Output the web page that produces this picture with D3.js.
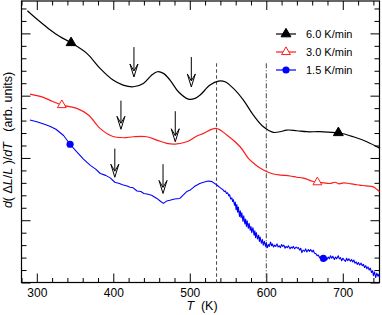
<!DOCTYPE html>
<html>
<head>
<meta charset="utf-8">
<script src="https://cdn.jsdelivr.net/npm/d3@7"></script>
<style>
  html, body { margin: 0; padding: 0; background: #fff; }
  svg { display: block; font-family: "Liberation Sans", Arial, sans-serif; }
  .tick text { font-size: 12px; fill: #000; }
  .tick line { stroke: #000; }
</style>
</head>
<body>
<div id="chart"></div>
<script>
// Heating-rate curves, [T (K), d(dL/L)/dT in arb. units]
const black6 = [
  [287.7, 4.363], [300, 4.23], [315, 4.08], [330, 3.95], [344.8, 3.849], [365.4, 3.679],
  [382.7, 3.438], [399.7, 3.25], [412.8, 3.17], [426.3, 3.143], [439.3, 3.197], [450.3, 3.331],
  [457.6, 3.384], [465.5, 3.358], [474.2, 3.25], [485.1, 3.063], [498.2, 2.945], [506.9, 2.957],
  [513.5, 3.01], [526.5, 3.17], [537.4, 3.234], [546.1, 3.223], [557, 3.117], [570.1, 2.929],
  [583.1, 2.689], [596.2, 2.501], [609.3, 2.411], [618, 2.421], [626.8, 2.448], [639.9, 2.437],
  [652.9, 2.421], [670.3, 2.421], [694.2, 2.404], [713.9, 2.34], [731.4, 2.26], [748.8, 2.154]
];
const red3 = [
  [291.2, 3.026], [308.6, 2.973], [320, 2.91], [332.7, 2.849], [352.3, 2.796], [367.5, 2.689],
  [382.7, 2.475], [398, 2.352], [413.2, 2.324], [426.3, 2.34], [443.8, 2.34], [456.9, 2.287],
  [469.9, 2.234], [480.8, 2.223], [496.1, 2.26], [509.2, 2.352], [517.8, 2.395], [534.4, 2.475],
  [548.4, 2.368], [565.8, 2.18], [576.6, 1.994], [585, 1.9], [596.2, 1.806], [609.3, 1.742],
  [620, 1.725], [631, 1.71], [640, 1.69], [647, 1.68], [653, 1.66], [660, 1.625], [667, 1.61],
  [675, 1.60], [683, 1.59], [690, 1.61], [695, 1.585], [701, 1.60], [708, 1.59], [715, 1.575],
  [722, 1.565], [730, 1.55], [740, 1.535], [744, 1.50], [748, 1.46]
];
const blue15 = [
  [291, 2.61], [300, 2.58], [310, 2.54], [317, 2.51], [325, 2.46], [335, 2.36], [343.5, 2.22],
  [352, 2.10], [361, 1.98], [370, 1.88], [377, 1.82], [383, 1.75], [390, 1.72], [396, 1.68],
  [402, 1.61], [408, 1.59], [412, 1.57], [418, 1.55], [422, 1.53], [426, 1.52], [431, 1.47],
  [436, 1.46], [440, 1.43], [444, 1.42], [450, 1.40], [457, 1.35], [462, 1.30], [465.5, 1.27],
  [470, 1.31], [474, 1.32], [480, 1.34], [487, 1.35], [492, 1.41], [496, 1.46], [500, 1.48],
  [506, 1.54], [513, 1.59], [518, 1.61], [524, 1.63], [529, 1.62], [535, 1.57],
  [540, 1.52], [542, 1.50], [543.5, 1.49], [545, 1.46], [546.5, 1.47], [548, 1.43], [549.5, 1.44],
  [551, 1.39], [552, 1.41], [553.5, 1.34], [555, 1.36], [556, 1.30], [557, 1.33], [558.5, 1.24],
  [559.5, 1.29], [560.5, 1.17], [561.5, 1.25], [562.5, 1.13], [563.5, 1.21], [565, 1.06],
  [566, 1.15], [567, 1.04], [568, 1.12], [569.5, 0.98], [570.5, 1.07], [572, 0.94], [573, 1.02],
  [574, 0.90], [575, 0.99], [576.5, 0.87], [577.5, 0.95], [579, 0.84], [580, 0.90], [581, 0.80],
  [582.5, 0.88], [584, 0.76], [585, 0.83], [586, 0.72], [587, 0.80], [588.5, 0.70], [590, 0.76],
  [591, 0.66], [592, 0.73], [593.5, 0.63], [595, 0.69], [596, 0.60], [597.5, 0.66], [599, 0.58],
  [600, 0.64], [601.5, 0.56], [603, 0.61], [604, 0.58], [605.5, 0.65], [607, 0.59], [608, 0.62],
  [609.5, 0.57], [611, 0.60], [612.5, 0.58], [614, 0.62], [615.5, 0.57], [617, 0.59], [618.5, 0.56],
  [620, 0.61], [621.5, 0.58], [623, 0.60], [624.5, 0.55], [626, 0.58], [627.5, 0.56], [629, 0.59],
  [631, 0.54], [632.5, 0.57], [634, 0.55], [635.5, 0.58], [637, 0.54], [639, 0.57], [640.5, 0.55],
  [642, 0.56], [643.5, 0.52], [645, 0.55], [646.5, 0.48], [648, 0.52], [650, 0.50], [651.5, 0.54],
  [653, 0.49], [655, 0.53], [656.5, 0.50], [658, 0.53], [660, 0.49], [661.5, 0.52], [663, 0.47],
  [665, 0.46], [666.5, 0.43], [668, 0.44], [669.5, 0.40], [671, 0.41], [672.5, 0.38], [674, 0.40],
  [676, 0.37], [677.5, 0.40], [679, 0.36], [681, 0.41], [682.5, 0.38], [684, 0.43], [685.5, 0.39],
  [687, 0.42], [689, 0.37], [690.5, 0.41], [692, 0.38], [694, 0.43], [695.5, 0.38], [697, 0.40],
  [698.5, 0.35], [700, 0.39], [702, 0.36], [703.5, 0.34], [705, 0.39], [706.5, 0.35], [708, 0.38],
  [710, 0.34], [711.5, 0.37], [713, 0.33], [714.5, 0.36], [716, 0.31], [717.5, 0.33], [719, 0.29],
  [720.5, 0.32], [722, 0.28], [724, 0.31], [725.5, 0.27], [727, 0.29], [728.5, 0.24], [730, 0.27],
  [731.5, 0.22], [733, 0.25], [734.5, 0.20], [736, 0.23], [737.5, 0.16], [739, 0.19], [740, 0.11],
  [741.5, 0.17], [743, 0.08], [744.5, 0.15], [746, 0.10], [747, 0.13], [748, 0.09]
];

// Symbol positions along each curve
const blackMarks = [[344.8, 3.849], [694.2, 2.404]];
const redMarks = [[332.7, 2.849], [666.8, 1.61]];
const blueMarks = [[343.5, 2.22], [674.6, 0.388]];

// Arrows: T, value at tail, value at tip
const arrowsT = [427, 502, 410, 481, 402, 465];
const arrowsTail = [3.78, 3.62, 2.92, 2.75, 2.15, 1.90];
const arrowsTip = [3.30, 3.14, 2.46, 2.26, 1.69, 1.43];

// Reference lines
const vlineT = [535, 600];
const vlineTop = 3.52;

const xMajor = [300, 400, 500, 600, 700];
const yMajor = [0, 1, 2, 3, 4];
const legendLabels = ['6.0 K/min', '3.0 K/min', '1.5 K/min'];

const W = 382, H = 315;
const margin = { top: 1, right: 2.5, bottom: 32.5, left: 21.5 };
const width = W - margin.left - margin.right;
const height = H - margin.top - margin.bottom;

const svgRoot = d3.select('#chart').append('svg').attr('width', W).attr('height', H);
const svg = svgRoot.append('g').attr('transform', `translate(${margin.left},${margin.top})`);

const x = d3.scaleLinear().domain([280, 748]).range([0, width]);
const y = d3.scaleLinear().domain([0, 4.52]).range([height, 0]);

const xMinor = d3.range(280, 748, 20).filter(v => !xMajor.includes(v));
const yMinor = d3.range(0, 4.5, 0.2).map(v => +v.toFixed(1)).filter(v => !yMajor.includes(v));

function addAxis(axisFn, scale, values, size, labels, transform) {
  const ax = axisFn(scale).tickValues(values).tickSize(-size).tickPadding(6);
  if (!labels) ax.tickFormat('');
  const g = svg.append('g').attr('transform', transform).call(ax);
  g.select('.domain').remove();
  return g;
}

addAxis(d3.axisBottom, x, xMinor, 4.5, false, `translate(0,${height})`);
addAxis(d3.axisBottom, x, xMajor, 9, true, `translate(0,${height})`);
addAxis(d3.axisTop, x, xMinor, 4.5, false, 'translate(0,0)');
addAxis(d3.axisTop, x, xMajor, 9, false, 'translate(0,0)');
addAxis(d3.axisLeft, y, yMinor, 5, false, 'translate(0,0)');
addAxis(d3.axisLeft, y, yMajor, 9, false, 'translate(0,0)');
addAxis(d3.axisRight, y, yMinor, 5, false, `translate(${width},0)`);
addAxis(d3.axisRight, y, yMajor, 9, false, `translate(${width},0)`);

svg.append('rect')
  .attr('width', width).attr('height', height)
  .attr('fill', 'none').attr('stroke', '#000').attr('stroke-width', 1.2);

// vertical reference lines
svg.selectAll('.vline').data(vlineT).join('line')
  .attr('class', 'vline')
  .attr('x1', d => x(d)).attr('x2', d => x(d))
  .attr('y1', y(vlineTop)).attr('y2', height)
  .attr('stroke', '#444').attr('stroke-width', 1)
  .attr('stroke-dasharray', (d, i) => i === 0 ? '3.5,2.5' : '5,2,1,2');

const lineGen = d3.line().x(d => x(d[0])).y(d => y(d[1]));

const series = [
  { data: black6, color: '#000', curve: d3.curveCatmullRom, marks: blackMarks, w: 1.2 },
  { data: red3, color: '#ff1a1a', curve: d3.curveCatmullRom, marks: redMarks, w: 1.2 },
  { data: blue15, color: '#0000ff', curve: d3.curveLinear, marks: blueMarks, w: 1.1 }
];

series.forEach(s => {
  svg.append('path')
    .attr('d', lineGen.curve(s.curve)(s.data))
    .attr('fill', 'none').attr('stroke', s.color).attr('stroke-width', s.w)
    .attr('stroke-linejoin', 'round');
});

function drawMarker(g, i, cx, cy) {
  if (i === 2) {
    g.append('circle').attr('cx', cx).attr('cy', cy).attr('r', 3.6).attr('fill', '#0000ff');
  } else {
    g.append('path')
      .attr('d', d3.symbol().type(d3.symbolTriangle).size(i === 0 ? 42 : 34)())
      .attr('transform', `translate(${cx},${cy})`)
      .attr('fill', i === 0 ? '#000' : '#fff')
      .attr('stroke', i === 0 ? '#000' : '#ff1a1a')
      .attr('stroke-width', 1);
  }
}

series.forEach((s, i) => {
  s.marks.forEach(m => drawMarker(svg, i, x(m[0]), y(m[1])));
});

// arrows
arrowsT.forEach((t, i) => {
  const ax = x(t), y0 = y(arrowsTail[i]), y1 = y(arrowsTip[i]);
  svg.append('line')
    .attr('x1', ax).attr('x2', ax).attr('y1', y0).attr('y2', y1 - 6)
    .attr('stroke', '#000').attr('stroke-width', 1);
  svg.append('path')
    .attr('d', `M${ax - 4},${y1 - 13} L${ax},${y1} L${ax + 4},${y1 - 13} L${ax},${y1 - 6} Z`)
    .attr('fill', '#fff').attr('stroke', '#000').attr('stroke-width', 1);
});

// legend
const legend = svgRoot.append('g').attr('transform', 'translate(276,34)');
legendLabels.forEach((label, i) => {
  const row = legend.append('g').attr('transform', `translate(0,${i * 18})`);
  row.append('line').attr('x1', 0).attr('x2', 20).attr('y1', 0).attr('y2', 0)
    .attr('stroke', series[i].color).attr('stroke-width', 1.2);
  drawMarker(row, i, 10, 0);
  row.append('text').attr('x', 30).attr('y', 4)
    .attr('font-size', 11).text(label);
});

// axis titles
const xt = svgRoot.append('text')
  .attr('x', 202).attr('y', 310).attr('text-anchor', 'middle')
  .attr('font-size', 12.5).style('white-space', 'pre');
xt.append('tspan').attr('font-style', 'italic').text('T');
xt.append('tspan').text('  (K)');

const yt = svgRoot.append('text')
  .attr('transform', 'translate(12,140) rotate(-90)')
  .attr('text-anchor', 'middle').attr('font-size', 12.5).style('white-space', 'pre');
yt.append('tspan').attr('font-style', 'italic').text('d');
yt.append('tspan').text('( Δ');
yt.append('tspan').attr('font-style', 'italic').text('L');
yt.append('tspan').text('/');
yt.append('tspan').attr('font-style', 'italic').text('L');
yt.append('tspan').text(' )/');
yt.append('tspan').attr('font-style', 'italic').text('dT');
yt.append('tspan').text('   (arb. units)');
</script>
</body>
</html>
